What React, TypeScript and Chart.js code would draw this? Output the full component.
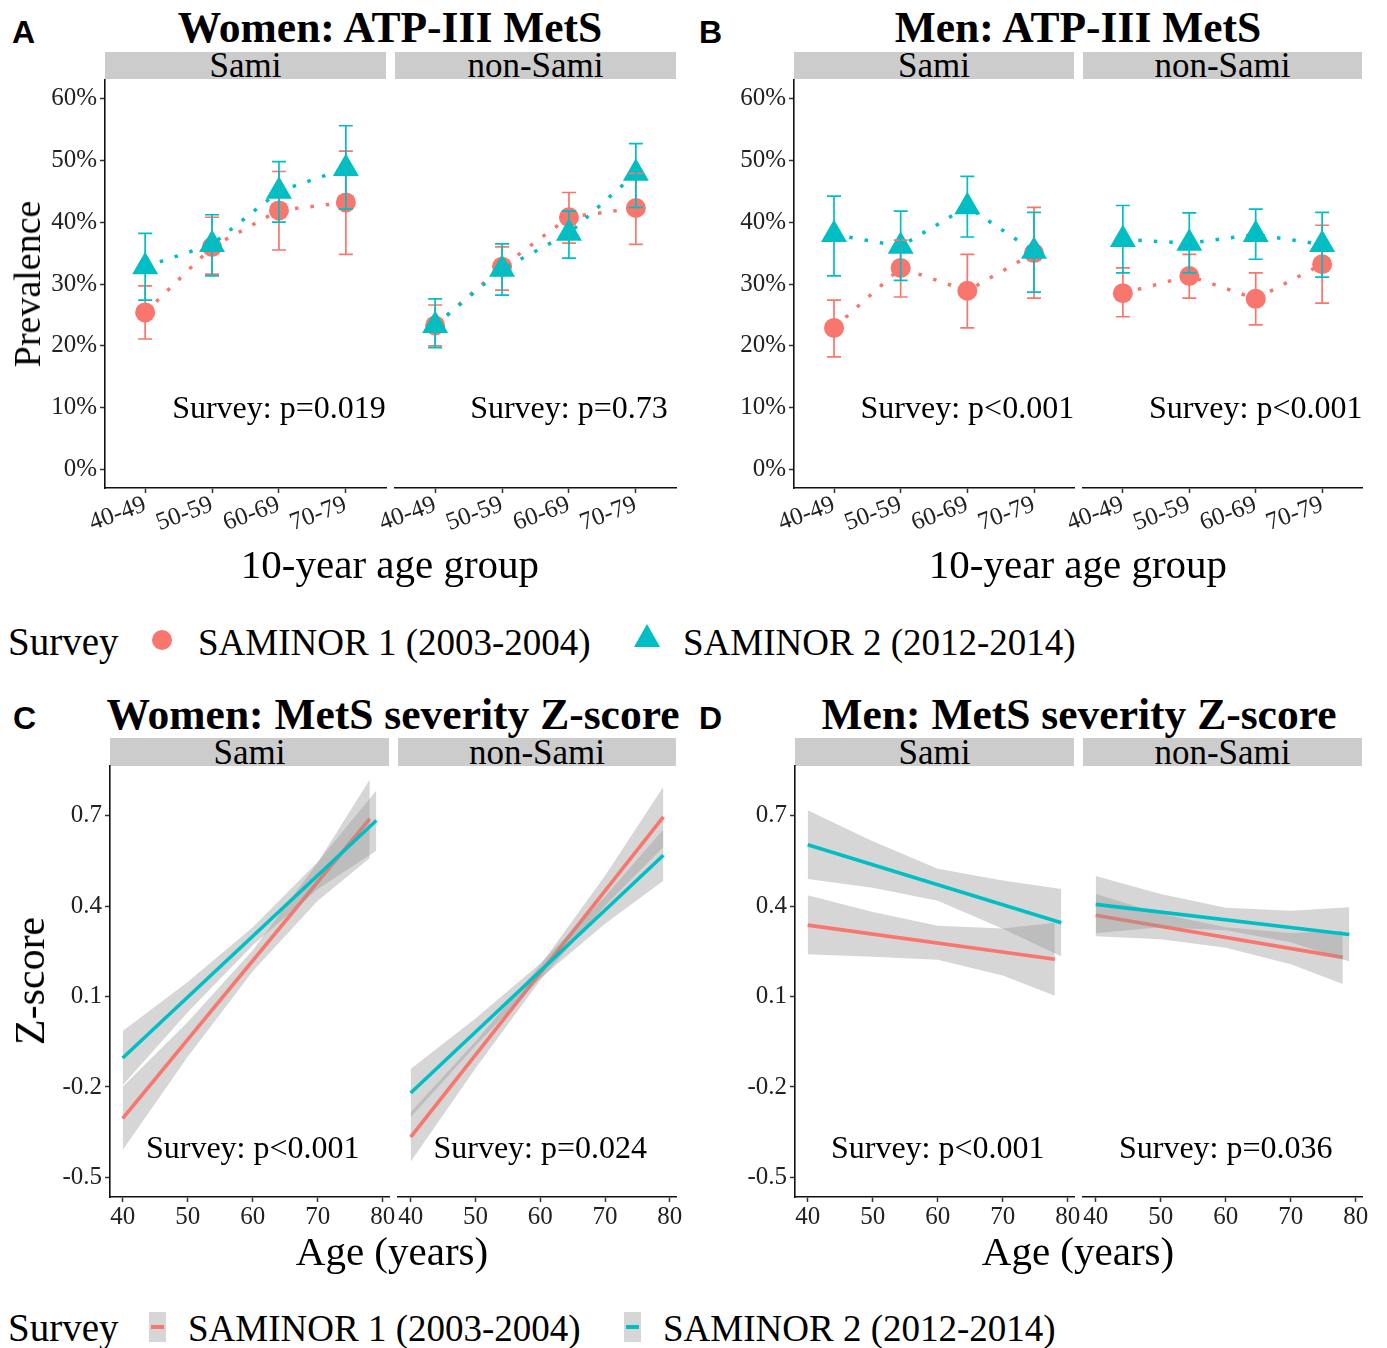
import React, { useEffect, useRef } from "react";
import { Chart, registerables } from "chart.js";

Chart.register(...registerables);
Chart.defaults.font.family = "Liberation Serif";

const RED = "#F8766D";
const TEAL = "#00BFC4";
const BAND = "rgba(153,153,153,0.4)";
const SERIF = "'Liberation Serif', 'Times New Roman', serif";
const SANS = "'Liberation Sans', Arial, sans-serif";

// ---------- categories / ticks ----------
const ageGroups = ["40-49", "50-59", "60-69", "70-79"];
const prevalenceTicks = [0, 10, 20, 30, 40, 50, 60];
const zTicks = [-0.5, -0.2, 0.1, 0.4, 0.7];
const ageTicks = [40, 50, 60, 70, 80];
const surveyLabels = ["SAMINOR 1 (2003-2004)", "SAMINOR 2 (2012-2014)"];

// ---------- A: Women, ATP-III MetS prevalence (%) ----------
const womenSamiS1 = [25.4, 36.0, 41.9, 43.2];
const womenSamiS1Lo = [21.1, 31.6, 35.5, 34.8];
const womenSamiS1Hi = [29.7, 40.8, 48.2, 51.5];
const womenSamiS2 = [32.8, 36.4, 45.0, 48.7];
const womenSamiS2Lo = [27.4, 31.3, 40.0, 42.1];
const womenSamiS2Hi = [38.2, 41.2, 49.8, 55.6];

const womenNonSamiS1 = [23.3, 32.8, 40.8, 42.3];
const womenNonSamiS1Lo = [20.0, 29.0, 36.6, 36.4];
const womenNonSamiS1Hi = [26.6, 36.0, 44.8, 47.9];
const womenNonSamiS2 = [23.3, 32.4, 38.2, 47.9];
const womenNonSamiS2Lo = [19.7, 28.2, 34.2, 42.4];
const womenNonSamiS2Hi = [27.6, 36.5, 41.8, 52.7];

// ---------- B: Men, ATP-III MetS prevalence (%) ----------
const menSamiS1 = [22.9, 32.6, 28.9, 35.0];
const menSamiS1Lo = [18.2, 27.9, 22.9, 27.7];
const menSamiS1Hi = [27.4, 37.1, 34.8, 42.4];
const menSamiS2 = [38.0, 36.1, 42.5, 35.3];
const menSamiS2Lo = [31.3, 30.6, 37.6, 28.7];
const menSamiS2Hi = [44.2, 41.8, 47.4, 41.6];

const menNonSamiS1 = [28.5, 31.3, 27.6, 33.2];
const menNonSamiS1Lo = [24.7, 27.7, 23.4, 26.9];
const menNonSamiS1Hi = [32.6, 34.8, 31.8, 39.5];
const menNonSamiS2 = [37.2, 36.6, 38.0, 36.4];
const menNonSamiS2Lo = [31.8, 31.8, 34.0, 31.1];
const menNonSamiS2Hi = [42.7, 41.5, 42.1, 41.6];

// ---------- C: Women, MetS severity Z-score (linear fit + 95% band) ----------
const wSamiS1Age = [40, 50, 60, 70, 78];
const wSamiS1Lo = [-0.409, -0.1, 0.184, 0.418, 0.56];
const wSamiS1Hi = [-0.199, 0.016, 0.254, 0.545, 0.82];
const wSamiS1FitAge = [40, 78];
const wSamiS1Fit = [-0.304, 0.69];
const wSamiS2Age = [40, 50, 60, 70, 79];
const wSamiS2Lo = [-0.194, 0.048, 0.27, 0.457, 0.584];
const wSamiS2Hi = [-0.014, 0.148, 0.33, 0.547, 0.784];
const wSamiS2FitAge = [40, 79];
const wSamiS2Fit = [-0.104, 0.684];

const wNonSamiS1Age = [40, 50, 60, 70, 79];
const wNonSamiS1Lo = [-0.448, -0.139, 0.154, 0.401, 0.596];
const wNonSamiS1Hi = [-0.284, -0.049, 0.204, 0.501, 0.796];
const wNonSamiS1FitAge = [40, 79];
const wNonSamiS1Fit = [-0.366, 0.696];
const wNonSamiS2Age = [40, 50, 60, 70, 79];
const wNonSamiS2Lo = [-0.3, -0.063, 0.16, 0.342, 0.484];
const wNonSamiS2Hi = [-0.14, 0.027, 0.21, 0.432, 0.654];
const wNonSamiS2FitAge = [40, 79];
const wNonSamiS2Fit = [-0.22, 0.569];

// ---------- D: Men, MetS severity Z-score ----------
const mSamiS1Age = [40, 50, 60, 70, 78];
const mSamiS1Lo = [0.24, 0.232, 0.222, 0.17, 0.103];
const mSamiS1Hi = [0.436, 0.381, 0.335, 0.326, 0.345];
const mSamiS1FitAge = [40, 78];
const mSamiS1Fit = [0.337, 0.224];
const mSamiS2Age = [40, 50, 60, 70, 79];
const mSamiS2Lo = [0.49, 0.461, 0.418, 0.325, 0.233];
const mSamiS2Hi = [0.718, 0.615, 0.524, 0.485, 0.457];
const mSamiS2FitAge = [40, 79];
const mSamiS2Fit = [0.604, 0.345];

const mNonSamiS1Age = [40, 50, 60, 70, 78];
const mNonSamiS1Lo = [0.3, 0.29, 0.262, 0.207, 0.142];
const mNonSamiS1Hi = [0.44, 0.375, 0.33, 0.311, 0.318];
const mNonSamiS1FitAge = [40, 78];
const mNonSamiS1Fit = [0.37, 0.23];
const mNonSamiS2Age = [40, 50, 60, 70, 79];
const mNonSamiS2Lo = [0.31, 0.33, 0.32, 0.28, 0.216];
const mNonSamiS2Hi = [0.5, 0.44, 0.395, 0.385, 0.396];
const mNonSamiS2FitAge = [40, 79];
const mNonSamiS2Fit = [0.406, 0.306];

// ---------- annotations ----------
const notesA = ["Survey: p=0.019", "Survey: p=0.73"];
const notesB = ["Survey: p<0.001", "Survey: p<0.001"];
const notesC = ["Survey: p<0.001", "Survey: p=0.024"];
const notesD = ["Survey: p<0.001", "Survey: p=0.036"];

// ---------- dataset builders ----------
const toXY = (xs: number[], ys: number[]) => xs.map((x, i) => ({ x, y: ys[i] }));

function prevSeries(
  s1: number[], s1Lo: number[], s1Hi: number[],
  s2: number[], s2Lo: number[], s2Hi: number[]
) {
  const cats = ageGroups.map((_, i) => i + 1);
  return [
    {
      label: surveyLabels[0], data: toXY(cats, s1), borderColor: RED, backgroundColor: RED,
      pointBackgroundColor: RED, borderWidth: 3.5, borderDash: [3.5, 12], pointStyle: "circle",
      pointRadius: 10, pointBorderWidth: 0, errLo: s1Lo, errHi: s1Hi, order: 2, tension: 0,
    },
    {
      label: surveyLabels[1], data: toXY(cats, s2), borderColor: TEAL, backgroundColor: TEAL,
      pointBackgroundColor: TEAL, borderWidth: 3.5, borderDash: [3.5, 12], pointStyle: "triangle",
      pointRadius: 15, pointBorderWidth: 0, errLo: s2Lo, errHi: s2Hi, order: 1, tension: 0,
    },
  ];
}

function zSeries(
  a1: number[], lo1: number[], hi1: number[], fa1: number[], f1: number[],
  a2: number[], lo2: number[], hi2: number[], fa2: number[], f2: number[]
) {
  const band = { borderWidth: 0, pointRadius: 0, tension: 0 };
  return [
    { ...band, data: toXY(a1, hi1), fill: 1, backgroundColor: BAND, order: 6 },
    { ...band, data: toXY(a1, lo1), fill: false, order: 5 },
    { label: surveyLabels[0], data: toXY(fa1, f1), borderColor: RED, borderWidth: 3.6, pointRadius: 0, fill: false, order: 4 },
    { ...band, data: toXY(a2, hi2), fill: 4, backgroundColor: BAND, order: 3 },
    { ...band, data: toXY(a2, lo2), fill: false, order: 2 },
    { label: surveyLabels[1], data: toXY(fa2, f2), borderColor: TEAL, borderWidth: 3.6, pointRadius: 0, fill: false, order: 1 },
  ];
}

const errorBarPlugin = {
  id: "errbars",
  afterDatasetsDraw(chart: any) {
    const { ctx, scales } = chart;
    const x = scales.x, y = scales.y;
    chart.data.datasets.forEach((ds: any) => {
      if (!ds.errLo) return;
      ctx.save();
      ctx.strokeStyle = ds.borderColor;
      ctx.lineWidth = 1.7;
      ds.errLo.forEach((lo: number, i: number) => {
        const px = x.getPixelForValue(ds.data[i].x);
        const p1 = y.getPixelForValue(lo);
        const p2 = y.getPixelForValue(ds.errHi[i]);
        ctx.beginPath();
        ctx.moveTo(px, p1); ctx.lineTo(px, p2);
        ctx.moveTo(px - 7, p1); ctx.lineTo(px + 7, p1);
        ctx.moveTo(px - 7, p2); ctx.lineTo(px + 7, p2);
        ctx.stroke();
      });
      ctx.restore();
    });
  },
};

type Area = { l: number; t: number; r: number; b: number };
type PanelProps = { kind: "prev" | "z"; area: Area; showY: boolean; datasets: any[]; note: string };

function Panel({ kind, area, showY, datasets, note }: PanelProps) {
  const ref = useRef<HTMLCanvasElement | null>(null);
  const yW = showY ? 75 : 0;
  const padL = showY ? 0 : 40;
  const padT = 20;
  const padR = 22;
  const xH = kind === "prev" ? 55 : 45;
  const left = area.l - (showY ? yW : padL);
  const top = area.t - padT;
  const width = area.r + padR - left;
  const height = area.b + xH - top;

  useEffect(() => {
    const isPrev = kind === "prev";
    const xTickVals = isPrev ? ageGroups.map((_, i) => i + 1) : ageTicks;
    const yTickVals = isPrev ? prevalenceTicks : zTicks;
    const noteX = isPrev ? 3 : 60;
    const noteY = isPrev ? 10 : -0.4;
    const tickFont = { family: "Liberation Serif", size: 25 };
    const grid = { display: true, drawOnChartArea: false, drawTicks: true, tickLength: 5, tickWidth: 1.5, tickColor: "#333", color: "#333" };
    const border = { display: true, color: "#111", width: 1.6 };
    const notePlugin = {
      id: "note",
      afterDatasetsDraw(chart: any) {
        const { ctx, scales } = chart;
        ctx.save();
        ctx.font = `32px ${SERIF}`;
        ctx.fillStyle = "#000";
        ctx.textAlign = "center";
        ctx.textBaseline = "alphabetic";
        ctx.fillText(note, scales.x.getPixelForValue(noteX), scales.y.getPixelForValue(noteY) + 10.5);
        ctx.restore();
      },
    };
    const chart = new Chart(ref.current as HTMLCanvasElement, {
      type: "line",
      data: { datasets: datasets as any },
      options: {
        animation: false,
        responsive: false,
        events: [],
        font: { family: "Liberation Serif" },
        layout: { padding: { left: padL, top: padT, right: padR, bottom: 0 } },
        plugins: { legend: { display: false }, tooltip: { enabled: false } },
        scales: {
          x: {
            type: "linear",
            min: isPrev ? 0.4 : 38.05,
            max: isPrev ? 4.6 : 80.95,
            afterBuildTicks: (s: any) => { s.ticks = xTickVals.map((v) => ({ value: v })); },
            afterFit: (s: any) => { s.height = xH; s.paddingLeft = 0; s.paddingRight = 0; },
            ticks: {
              autoSkip: false,
              minRotation: isPrev ? 20 : 0,
              maxRotation: isPrev ? 20 : 0,
              padding: isPrev ? -3 : 0,
              color: "#222",
              font: tickFont,
              callback: (v: any) => (isPrev ? ageGroups[Math.round(v) - 1] : String(v)),
            },
            grid,
            border,
          },
          y: {
            type: "linear",
            display: showY,
            min: isPrev ? -3 : -0.565,
            max: isPrev ? 63 : 0.865,
            afterBuildTicks: (s: any) => { s.ticks = yTickVals.map((v) => ({ value: v })); },
            afterFit: (s: any) => { s.width = yW; s.paddingTop = 0; s.paddingBottom = 0; },
            ticks: {
              padding: 3,
              color: "#222",
              font: tickFont,
              callback: (v: any) => (isPrev ? `${v}%` : Number(v).toFixed(1)),
            },
            grid,
            border,
          },
        },
      } as any,
      plugins: [errorBarPlugin, notePlugin] as any,
    });
    return () => chart.destroy();
  }, []);

  return (
    <canvas
      ref={ref}
      width={width}
      height={height}
      style={{ position: "absolute", left, top, width, height }}
    />
  );
}

// ---------- text helpers ----------
function Txt(props: {
  x: number; y: number; size: number; bold?: boolean; anchor?: "start" | "middle";
  family?: string; children: React.ReactNode;
}) {
  const { x, y, size, bold, anchor = "middle", family = SERIF, children } = props;
  const asc = family === SANS ? 0.8465 : 0.8375;
  const style: React.CSSProperties = {
    position: "absolute",
    top: y - asc * size,
    left: x,
    fontFamily: family,
    fontSize: size,
    lineHeight: 1,
    fontWeight: bold ? "bold" : "normal",
    whiteSpace: "nowrap",
    color: "#000",
    transform: anchor === "middle" ? "translateX(-50%)" : undefined,
  };
  return <div style={style}>{children}</div>;
}

function VTxt({ cx, cy, size, children }: { cx: number; cy: number; size: number; children: React.ReactNode }) {
  return (
    <div
      style={{
        position: "absolute", left: cx, top: cy, fontFamily: SERIF, fontSize: size, lineHeight: 1,
        whiteSpace: "nowrap", transform: "translate(-50%,-50%) rotate(-90deg)", color: "#000",
      }}
    >
      {children}
    </div>
  );
}

function Strip({ l, r, t, b, label }: { l: number; r: number; t: number; b: number; label: string }) {
  return (
    <>
      <div style={{ position: "absolute", left: l, top: t, width: r - l, height: b - t, background: "#CCCCCC" }} />
      <Txt x={(l + r) / 2} y={b - 2} size={35}>{label}</Txt>
    </>
  );
}

function BandKey({ cx, cy, color }: { cx: number; cy: number; color: string }) {
  return (
    <>
      <div style={{ position: "absolute", left: cx - 8.5, top: cy - 15, width: 17, height: 30, background: "#D6D6D6" }} />
      <div style={{ position: "absolute", left: cx - 6.5, top: cy - 2, width: 13, height: 4, background: color }} />
    </>
  );
}

export default function App() {
  const topArea = { t: 80, b: 488 };
  const botArea = { t: 766, b: 1197 };
  return (
    <div style={{ position: "absolute", left: 0, top: 0, width: 1387, height: 1348, background: "#fff", overflow: "hidden" }}>
      {/* Panel labels & titles */}
      <Txt x={12} y={43} size={32} bold anchor="start" family={SANS}>A</Txt>
      <Txt x={699} y={43} size={32} bold anchor="start" family={SANS}>B</Txt>
      <Txt x={13} y={729} size={32} bold anchor="start" family={SANS}>C</Txt>
      <Txt x={699} y={729} size={32} bold anchor="start" family={SANS}>D</Txt>
      <Txt x={390} y={42} size={43.5} bold>Women: ATP-III MetS</Txt>
      <Txt x={1078} y={42} size={43.5} bold>Men: ATP-III MetS</Txt>
      <Txt x={393} y={729} size={43.5} bold>Women: MetS severity Z-score</Txt>
      <Txt x={1079} y={729} size={43.5} bold>Men: MetS severity Z-score</Txt>

      {/* Strips */}
      <Strip l={105} r={386} t={52} b={79} label="Sami" />
      <Strip l={395} r={676} t={52} b={79} label="non-Sami" />
      <Strip l={794} r={1074} t={52} b={79} label="Sami" />
      <Strip l={1083} r={1362} t={52} b={79} label="non-Sami" />
      <Strip l={110} r={389} t={738} b={766} label="Sami" />
      <Strip l={398} r={676} t={738} b={766} label="non-Sami" />
      <Strip l={795} r={1074} t={738} b={766} label="Sami" />
      <Strip l={1083} r={1362} t={738} b={766} label="non-Sami" />

      {/* Panels A */}
      <Panel kind="prev" showY area={{ l: 105, r: 386, ...topArea }} note={notesA[0]}
        datasets={prevSeries(womenSamiS1, womenSamiS1Lo, womenSamiS1Hi, womenSamiS2, womenSamiS2Lo, womenSamiS2Hi)} />
      <Panel kind="prev" showY={false} area={{ l: 395, r: 676, ...topArea }} note={notesA[1]}
        datasets={prevSeries(womenNonSamiS1, womenNonSamiS1Lo, womenNonSamiS1Hi, womenNonSamiS2, womenNonSamiS2Lo, womenNonSamiS2Hi)} />
      {/* Panels B */}
      <Panel kind="prev" showY area={{ l: 794, r: 1074, ...topArea }} note={notesB[0]}
        datasets={prevSeries(menSamiS1, menSamiS1Lo, menSamiS1Hi, menSamiS2, menSamiS2Lo, menSamiS2Hi)} />
      <Panel kind="prev" showY={false} area={{ l: 1083, r: 1362, ...topArea }} note={notesB[1]}
        datasets={prevSeries(menNonSamiS1, menNonSamiS1Lo, menNonSamiS1Hi, menNonSamiS2, menNonSamiS2Lo, menNonSamiS2Hi)} />
      {/* Panels C */}
      <Panel kind="z" showY area={{ l: 110, r: 389, ...botArea }} note={notesC[0]}
        datasets={zSeries(wSamiS1Age, wSamiS1Lo, wSamiS1Hi, wSamiS1FitAge, wSamiS1Fit, wSamiS2Age, wSamiS2Lo, wSamiS2Hi, wSamiS2FitAge, wSamiS2Fit)} />
      <Panel kind="z" showY={false} area={{ l: 398, r: 676, ...botArea }} note={notesC[1]}
        datasets={zSeries(wNonSamiS1Age, wNonSamiS1Lo, wNonSamiS1Hi, wNonSamiS1FitAge, wNonSamiS1Fit, wNonSamiS2Age, wNonSamiS2Lo, wNonSamiS2Hi, wNonSamiS2FitAge, wNonSamiS2Fit)} />
      {/* Panels D */}
      <Panel kind="z" showY area={{ l: 795, r: 1074, ...botArea }} note={notesD[0]}
        datasets={zSeries(mSamiS1Age, mSamiS1Lo, mSamiS1Hi, mSamiS1FitAge, mSamiS1Fit, mSamiS2Age, mSamiS2Lo, mSamiS2Hi, mSamiS2FitAge, mSamiS2Fit)} />
      <Panel kind="z" showY={false} area={{ l: 1083, r: 1362, ...botArea }} note={notesD[1]}
        datasets={zSeries(mNonSamiS1Age, mNonSamiS1Lo, mNonSamiS1Hi, mNonSamiS1FitAge, mNonSamiS1Fit, mNonSamiS2Age, mNonSamiS2Lo, mNonSamiS2Hi, mNonSamiS2FitAge, mNonSamiS2Fit)} />

      {/* Axis titles */}
      <VTxt cx={27} cy={284} size={38}>Prevalence</VTxt>
      <VTxt cx={30} cy={981} size={42}>Z-score</VTxt>
      <Txt x={390} y={578} size={41}>10-year age group</Txt>
      <Txt x={1078} y={578} size={41}>10-year age group</Txt>
      <Txt x={392} y={1265} size={41}>Age (years)</Txt>
      <Txt x={1078} y={1265} size={41}>Age (years)</Txt>

      {/* Legend 1 */}
      <Txt x={8} y={655} size={39} anchor="start">Survey</Txt>
      <div style={{ position: "absolute", left: 152, top: 630, width: 20, height: 20, borderRadius: "50%", background: RED }} />
      <Txt x={198} y={655} size={37} anchor="start">{surveyLabels[0]}</Txt>
      <div style={{ position: "absolute", left: 634, top: 624, width: 0, height: 0, borderLeft: "13px solid transparent", borderRight: "13px solid transparent", borderBottom: `23px solid ${TEAL}` }} />
      <Txt x={683} y={655} size={37} anchor="start">{surveyLabels[1]}</Txt>

      {/* Legend 2 */}
      <Txt x={8} y={1341} size={39} anchor="start">Survey</Txt>
      <BandKey cx={157} cy={1327} color={RED} />
      <Txt x={188} y={1341} size={37} anchor="start">{surveyLabels[0]}</Txt>
      <BandKey cx={632} cy={1327} color={TEAL} />
      <Txt x={663} y={1341} size={37} anchor="start">{surveyLabels[1]}</Txt>
    </div>
  );
}
